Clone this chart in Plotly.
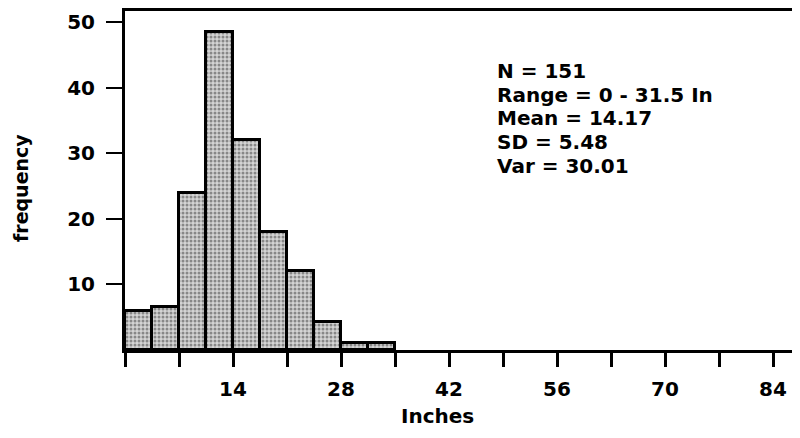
import plotly.graph_objects as go

# Histogram data
bin_starts = [0, 3.5, 7, 10.5, 14, 17.5, 21, 24.5, 28, 31.5]
bin_width = 3.5
frequency = [6, 6.5, 24, 48.5, 32, 18, 12, 4.3, 1, 1]

x_tick_vals = [14, 28, 42, 56, 70, 84]
x_tick_text = ["14", "28", "42", "56", "70", "84"]
y_tick_vals = [10, 20, 30, 40, 50]
y_tick_text = ["10", "20", "30", "40", "50"]

stats_lines = ["N = 151", "Range = 0 - 31.5 In", "Mean = 14.17", "SD = 5.48", "Var = 30.01"]

x_title = "Inches"
y_title = "frequency"

centers = [s + bin_width / 2 for s in bin_starts]

FONT = "DejaVu Sans"
BOLD = dict(family=FONT, size=20, color="black", weight="bold")

# page body has an 8px margin: figure is sized/offset to compensate
PAGE_OFF = 8
PLOT_L, PLOT_R, PLOT_T, PLOT_B = 125, 800, 11, 350
W, H = 800 - PAGE_OFF, 438 - PAGE_OFF
plot_h = PLOT_B - PLOT_T
plot_w = PLOT_R - PLOT_L


def px_x(x):
    return (x - PLOT_L) / plot_w


def px_y(y):
    return (PLOT_B - y) / plot_h


fig = go.Figure()
fig.add_trace(go.Bar(
    x=centers,
    y=frequency,
    width=[bin_width] * len(centers),
    marker=dict(
        color="#c8c8c8",
        line=dict(color="black", width=3),
        pattern=dict(shape=".", fgcolor="#3a3a3a", bgcolor="#d4d4d4", size=4, solidity=0.45),
    ),
    showlegend=False,
))

fig.update_layout(
    width=W,
    height=H,
    margin=dict(l=PLOT_L - PAGE_OFF, r=0, t=PLOT_T - PAGE_OFF, b=438 - PLOT_B),
    paper_bgcolor="white",
    plot_bgcolor="white",
    bargap=0,
    font=dict(family=FONT, size=18, color="black"),
    xaxis=dict(
        range=[0, 87.5],
        tickmode="array",
        tickvals=x_tick_vals,
        ticktext=x_tick_text,
        ticks="outside",
        ticklen=14,
        tickwidth=2.5,
        tickcolor="black",
        ticklabelstandoff=5,
        minor=dict(dtick=7, tick0=0, ticks="outside", ticklen=14, tickwidth=2.5, tickcolor="black"),
        showline=True,
        linecolor="black",
        linewidth=3,
        mirror=True,
        showgrid=False,
        zeroline=False,
        tickfont=BOLD,
    ),
    yaxis=dict(
        range=[0, 51.7],
        tickmode="array",
        tickvals=y_tick_vals,
        ticktext=y_tick_text,
        ticks="outside",
        ticklen=16,
        tickwidth=2,
        tickcolor="black",
        ticklabelstandoff=7,
        showline=True,
        linecolor="black",
        linewidth=3,
        mirror=False,
        showgrid=False,
        zeroline=False,
        tickfont=BOLD,
    ),
)

line_gap = 23.75
for i, line in enumerate(stats_lines):
    fig.add_annotation(
        text=line,
        xref="paper", yref="paper",
        x=px_x(495), y=px_y(71 + i * line_gap),
        xanchor="left", yanchor="middle", align="left",
        showarrow=False,
        font=BOLD,
    )

fig.add_annotation(
    text=x_title,
    xref="paper", yref="paper",
    x=px_x(437), y=px_y(416),
    xanchor="center", yanchor="middle",
    showarrow=False,
    font=BOLD,
)

fig.add_annotation(
    text=y_title,
    xref="paper", yref="paper",
    x=px_x(21), y=px_y(188),
    xanchor="center", yanchor="middle",
    textangle=-90,
    showarrow=False,
    font=dict(family=FONT, size=19, color="black", weight="bold"),
)

fig.write_html("out.html")
